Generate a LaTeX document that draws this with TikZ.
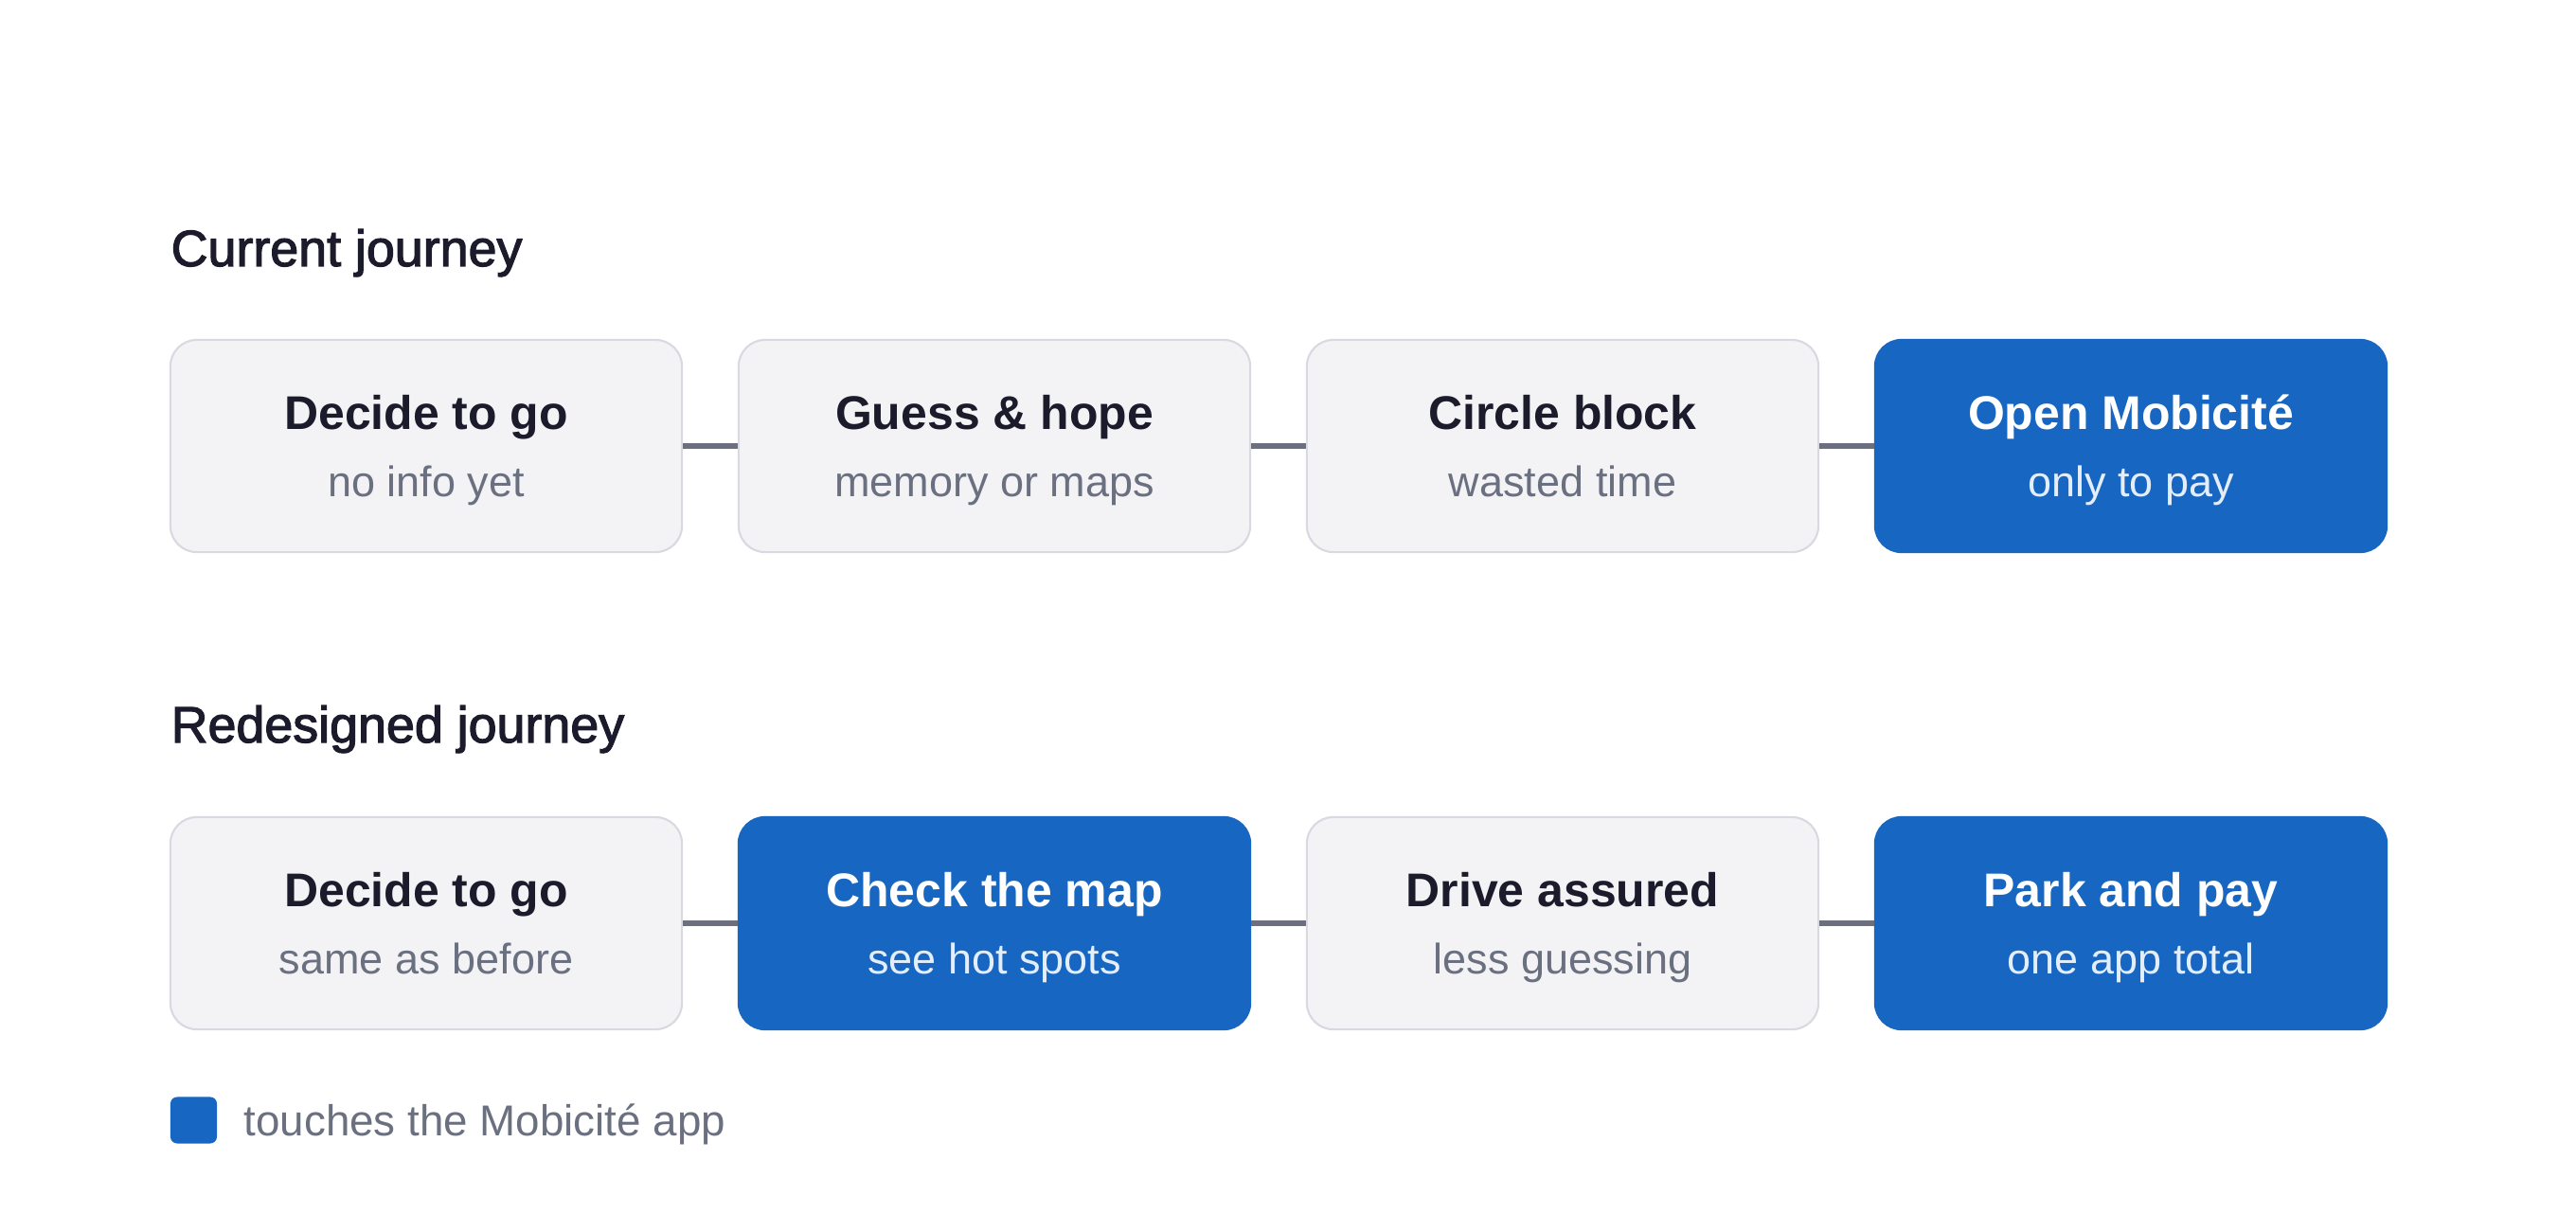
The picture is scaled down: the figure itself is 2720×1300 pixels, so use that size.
\documentclass[tikz,border=0pt]{standalone}
\usepackage{fontspec}
\setmainfont{Liberation Sans}
\newfontfamily\medfont{Liberation Sans}[FakeBold=2.2]
\definecolor{ink}{HTML}{1B1B2C}
\definecolor{sub}{HTML}{6B7080}
\definecolor{gfill}{HTML}{F3F3F6}
\definecolor{gline}{HTML}{D8D9E1}
\definecolor{blu}{HTML}{1766C1}
\definecolor{lightsub}{HTML}{E3EEFA}
\definecolor{conn}{HTML}{6B6F80}
\begin{document}
\begin{tikzpicture}[x=0.01cm,y=-0.01cm,
  gbox/.style={draw=gline,line width=0.6pt,fill=gfill,rounded corners=0.28cm,minimum width=5.4cm,minimum height=2.24cm,inner sep=0pt},
  bbox/.style={draw=blu,line width=0.6pt,fill=blu,rounded corners=0.28cm,minimum width=5.4cm,minimum height=2.24cm,inner sep=0pt},
  head/.style={anchor=base,inner sep=0pt,font=\fontsize{14.2pt}{16pt}\selectfont\bfseries,text=ink},
  headw/.style={head,text=white},
  subt/.style={anchor=base,inner sep=0pt,font=\fontsize{12.8pt}{15pt}\selectfont,text=sub},
  subw/.style={subt,text=lightsub},
  title/.style={anchor=base west,inner sep=0pt,font=\fontsize{15.3pt}{18pt}\selectfont\medfont,text=ink},
  conline/.style={draw=conn,line width=1.45pt}
]
\useasboundingbox (0,0) rectangle (2720,1300);
\fill[white] (0,0) rectangle (2720,1300);

\node[title] (t1) at (180,281) {Current journey};
\node[title] (t2) at (180,784) {Redesigned journey};

% row 1
\node[gbox] (a1) at (450,471) {};
\node[gbox] (a2) at (1050,471) {};
\node[gbox] (a3) at (1650,471) {};
\node[bbox] (a4) at (2250,471) {};
\draw[conline] (a1.east) -- (a2.west);
\draw[conline] (a2.east) -- (a3.west);
\draw[conline] (a3.east) -- (a4.west);
\node[head] (h1) at (450,453) {Decide to go};
\node[subt] (s1) at (450,524) {no info yet};
\node[head] (h2) at (1050,453) {Guess \& hope};
\node[subt] (s2) at (1050,524) {memory or maps};
\node[head] (h3) at (1650,453) {Circle block};
\node[subt] (s3) at (1650,524) {wasted time};
\node[headw] (h4) at (2250,453) {Open Mobicité};
\node[subw] (s4) at (2250,524) {only to pay};

% row 2
\node[gbox] (b1) at (450,975) {};
\node[bbox] (b2) at (1050,975) {};
\node[gbox] (b3) at (1650,975) {};
\node[bbox] (b4) at (2250,975) {};
\draw[conline] (b1.east) -- (b2.west);
\draw[conline] (b2.east) -- (b3.west);
\draw[conline] (b3.east) -- (b4.west);
\node[head] (k1) at (450,957) {Decide to go};
\node[subt] (l1) at (450,1028) {same as before};
\node[headw] (k2) at (1050,957) {Check the map};
\node[subw] (l2) at (1050,1028) {see hot spots};
\node[head] (k3) at (1650,957) {Drive assured};
\node[subt] (l3) at (1650,1028) {less guessing};
\node[headw] (k4) at (2250,957) {Park and pay};
\node[subw] (l4) at (2250,1028) {one app total};

% legend
\node[fill=blu,rounded corners=0.07cm,minimum size=0.49cm,inner sep=0pt] (lg) at (204.5,1183) {};
\node[anchor=base west,inner sep=0pt,font=\fontsize{13pt}{15pt}\selectfont,text=sub] (lt) at (257,1199) {touches the Mobicité app};
\end{tikzpicture}
\end{document}
